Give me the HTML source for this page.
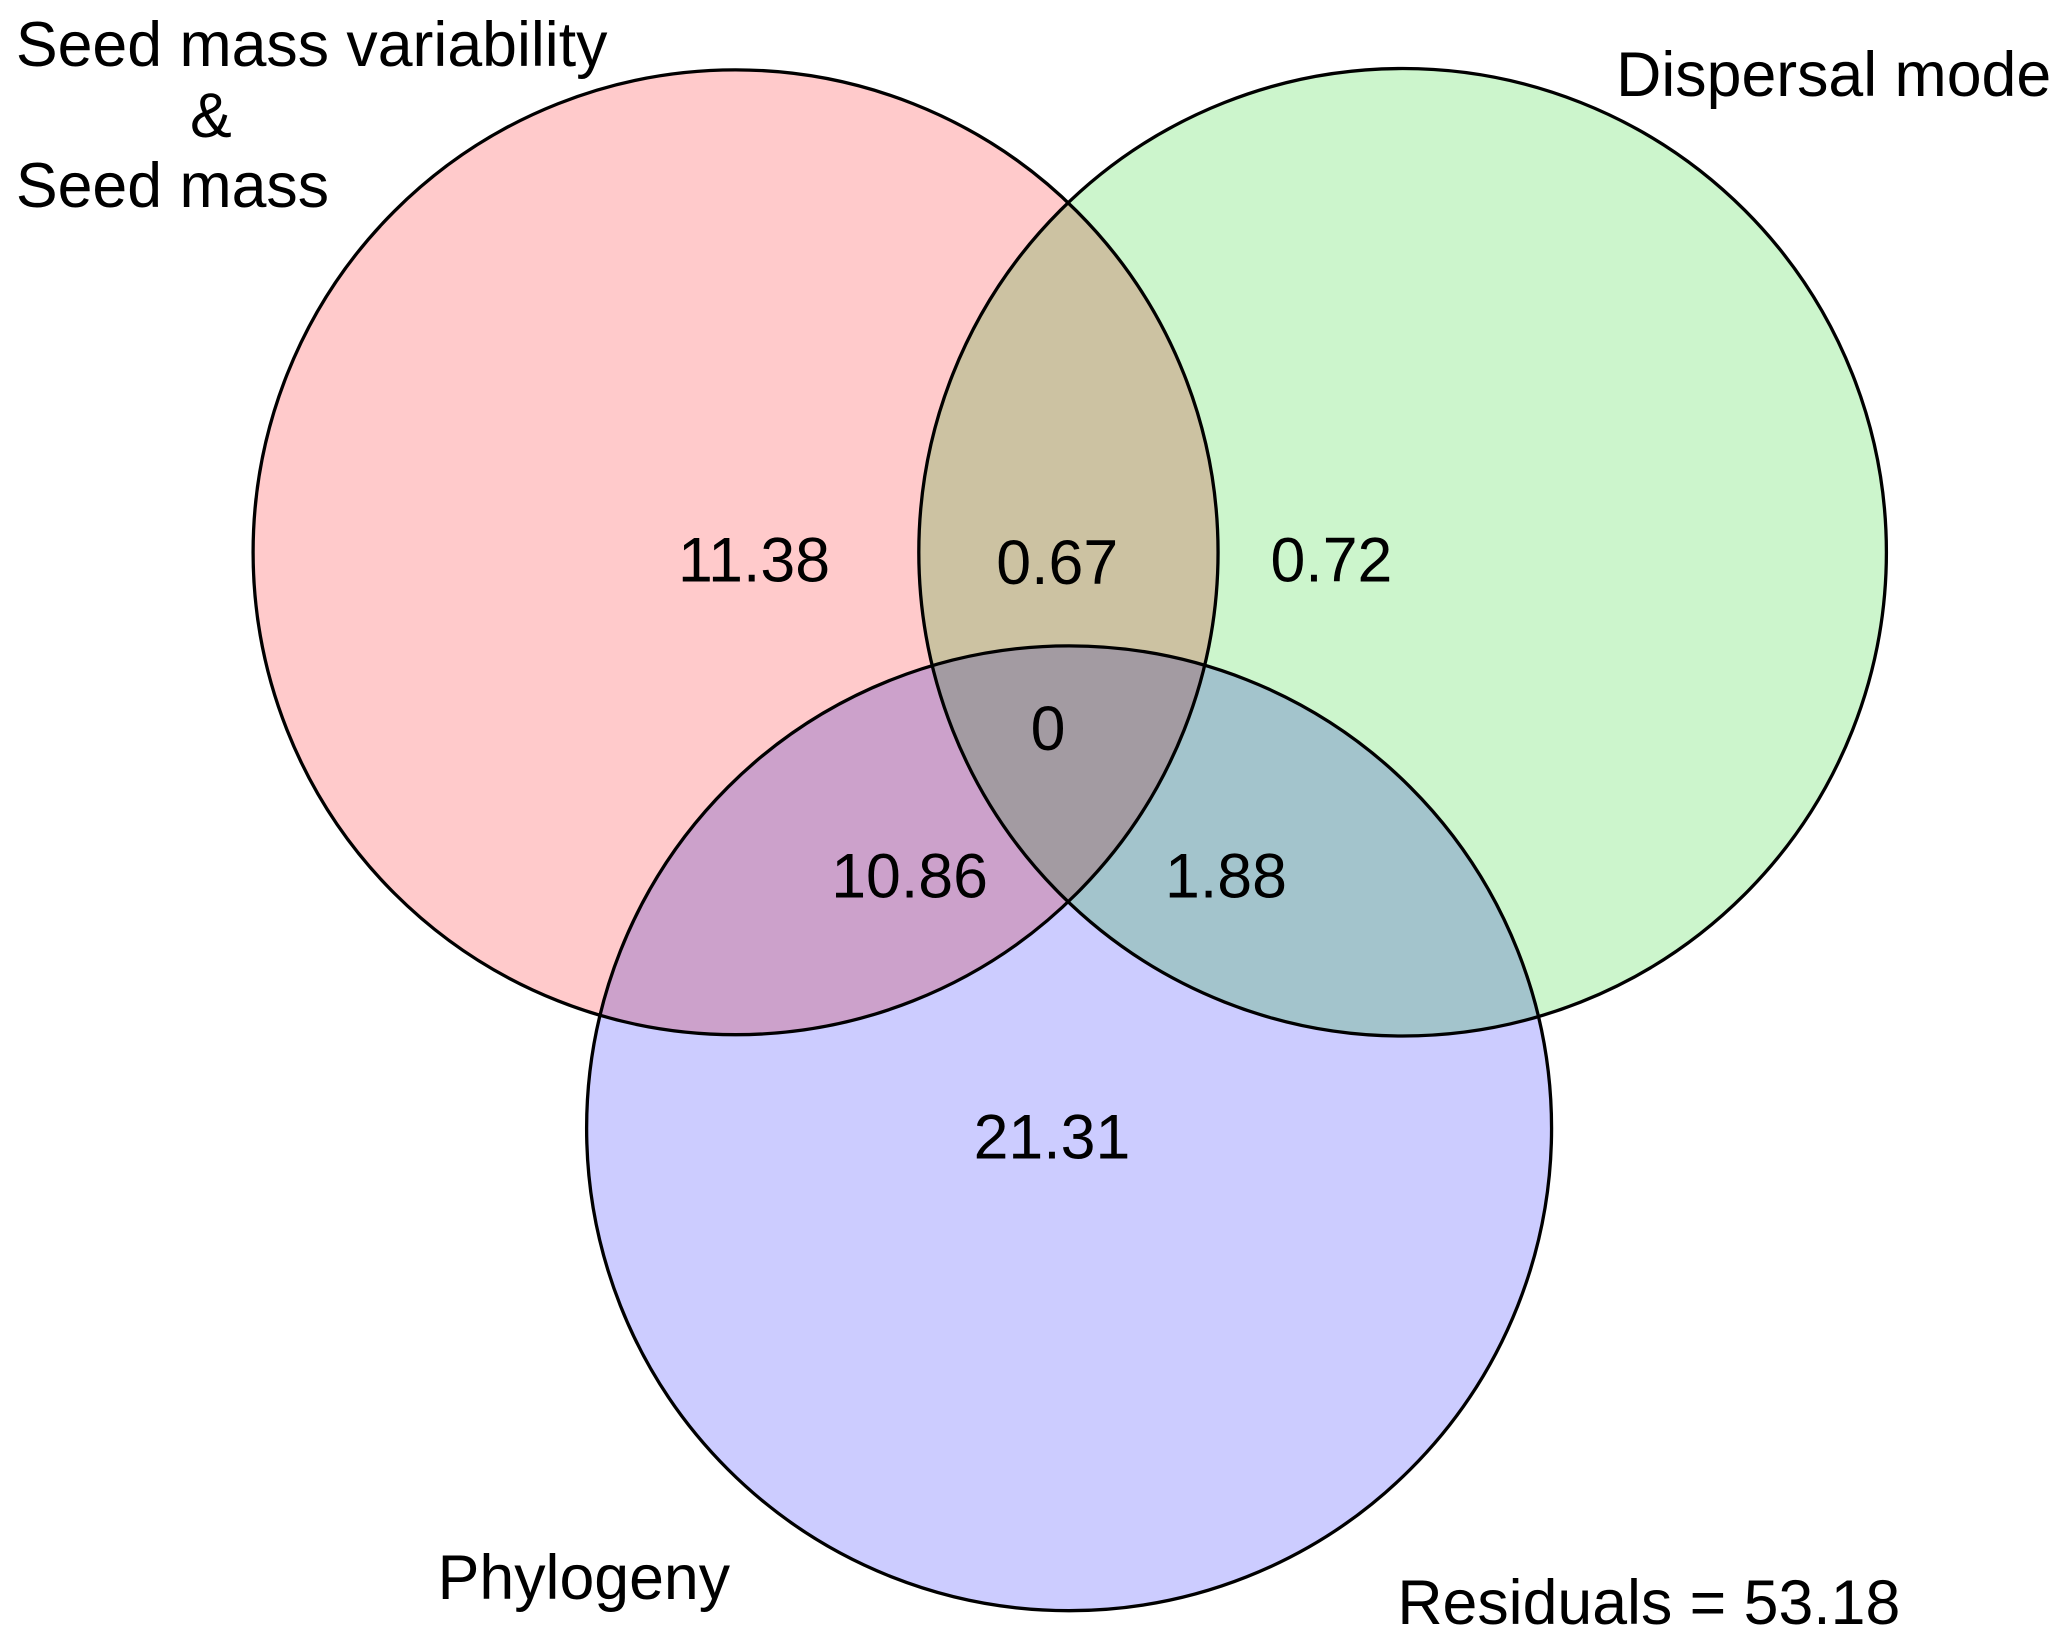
<!DOCTYPE html>
<html><head><meta charset="utf-8"><style>
html,body{margin:0;padding:0;background:#fff;}
svg{display:block;}
text{font-family:"Liberation Sans",sans-serif;font-size:47.5px;fill:#000;}
</style></head><body>
<svg width="2067" height="1641" viewBox="0 0 1568 1245" preserveAspectRatio="none">
<g id="sets" style="isolation:isolate"></g>
<g id="outlines"></g>
<g id="labels"></g>
<text x="12" y="50">Seed mass variability</text>
<text x="160" y="104" text-anchor="middle">&amp;</text>
<text x="12" y="157">Seed mass</text>
<text x="1556" y="73" text-anchor="end">Dispersal mode</text>
<text x="332" y="1213">Phylogeny</text>
<text x="1060" y="1232">Residuals = 53.18</text>
</svg>
<script>
const setNames = ['seed-mass', 'dispersal-mode', 'phylogeny'];
const setCx = [558, 1064, 811];
const setCy = [419, 419, 856];
const setR = [366, 367, 366];
const setFill = ['#FFCACB', '#CCF5CC', '#CCCCFF'];
const regionValues = ['11.38', '0.67', '0.72', '0', '10.86', '1.88', '21.31'];
const regionX = [572, 802, 1010, 795, 690, 930, 798];
const regionY = [441, 443, 441, 569, 681, 681, 879];
const NS = 'http://www.w3.org/2000/svg';
const sets = document.getElementById('sets');
const outlines = document.getElementById('outlines');
const labels = document.getElementById('labels');
for (let i = 0; i < setNames.length; i++) {
  const c = document.createElementNS(NS, 'circle');
  c.setAttribute('cx', setCx[i]); c.setAttribute('cy', setCy[i]); c.setAttribute('r', setR[i]);
  c.setAttribute('fill', setFill[i]);
  c.style.mixBlendMode = 'multiply';
  
  
  sets.appendChild(c);
  const o = document.createElementNS(NS, 'circle');
  o.setAttribute('cx', setCx[i]); o.setAttribute('cy', setCy[i]); o.setAttribute('r', setR[i]);
  o.setAttribute('fill', 'none'); o.setAttribute('stroke', '#000'); o.setAttribute('stroke-width', '2.5');
  
  
  outlines.appendChild(o);
}
for (let i = 0; i < regionValues.length; i++) {
  const t = document.createElementNS(NS, 'text');
  t.setAttribute('x', regionX[i]); t.setAttribute('y', regionY[i]);
  t.setAttribute('text-anchor', 'middle');
  t.textContent = regionValues[i];
  
  
  labels.appendChild(t);
}
</script>
</body></html>
